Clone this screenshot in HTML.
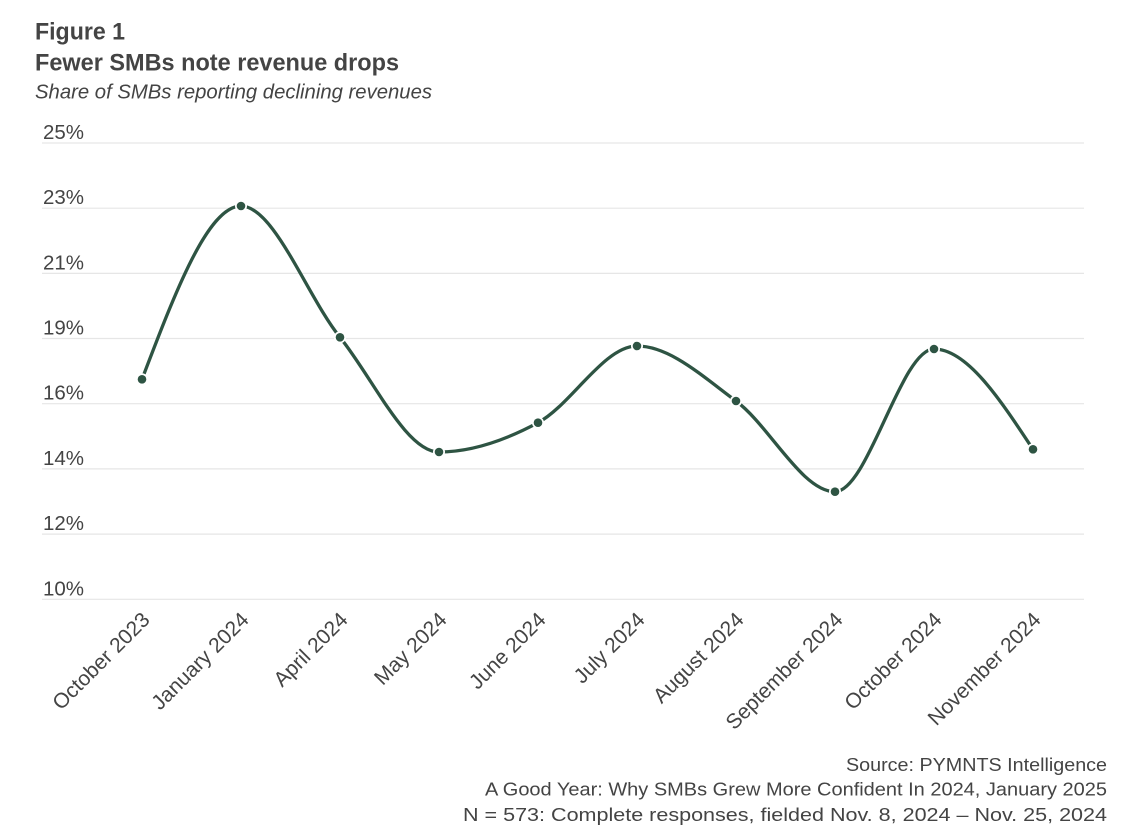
<!DOCTYPE html>
<html>
<head>
<meta charset="utf-8">
<style>
  html, body { margin:0; padding:0; background:#ffffff; }
  body { width:1134px; height:836px; overflow:hidden; }
  svg { display:block; }
  text { font-family: "Liberation Sans", "DejaVu Sans", sans-serif; fill:#444444; }
</style>
</head>
<body>
<svg width="1134" height="836" viewBox="0 0 1134 836" xmlns="http://www.w3.org/2000/svg">
  <rect x="0" y="0" width="1134" height="836" fill="#ffffff"/>

  <!-- Titles -->
  <text x="35" y="39.5" font-size="24.5" font-weight="bold" textLength="90" lengthAdjust="spacingAndGlyphs">Figure 1</text>
  <text x="35" y="70.5" font-size="24" font-weight="bold" textLength="364" lengthAdjust="spacingAndGlyphs">Fewer SMBs note revenue drops</text>
  <text x="35" y="98.5" font-size="20" font-style="italic" textLength="397" lengthAdjust="spacingAndGlyphs">Share of SMBs reporting declining revenues</text>

  <!-- Gridlines -->
  <g stroke="#e6e6e6" stroke-width="1.2">
    <line x1="42" x2="1084" y1="143" y2="143"/>
    <line x1="42" x2="1084" y1="208.2" y2="208.2"/>
    <line x1="42" x2="1084" y1="273.4" y2="273.4"/>
    <line x1="42" x2="1084" y1="338.5" y2="338.5"/>
    <line x1="42" x2="1084" y1="403.7" y2="403.7"/>
    <line x1="42" x2="1084" y1="468.9" y2="468.9"/>
    <line x1="42" x2="1084" y1="534.1" y2="534.1"/>
    <line x1="42" x2="1084" y1="599.3" y2="599.3"/>
  </g>

  <!-- Y labels -->
  <g font-size="20.5">
    <text x="43" y="139">25%</text>
    <text x="43" y="204.2">23%</text>
    <text x="43" y="269.4">21%</text>
    <text x="43" y="334.5">19%</text>
    <text x="43" y="399.7">16%</text>
    <text x="43" y="464.9">14%</text>
    <text x="43" y="530.1">12%</text>
    <text x="43" y="595.3">10%</text>
  </g>

  <!-- Line -->
  <path d="M142,379.3 C175,292.6 208,206 241,206 C274,206 307,296.3 340,337.3 C373,378.3 406,452 439,452 C472,452 505,440.4 538,422.7 C571,405 604,346 637,346 C670,346 703,376.7 736,401 C769,425.3 802,491.7 835,491.7 C868,491.7 901,349 934,349 C967,349 1000,399.2 1033,449.3"
        fill="none" stroke="#2e5443" stroke-width="3.3" stroke-linecap="round" stroke-linejoin="round"/>

  <!-- Markers -->
  <g>
    <g fill="#ffffff">
      <circle cx="142" cy="379.3" r="6"/>
      <circle cx="241" cy="206" r="6"/>
      <circle cx="340" cy="337.3" r="6"/>
      <circle cx="439" cy="452" r="6"/>
      <circle cx="538" cy="422.7" r="6"/>
      <circle cx="637" cy="346" r="6"/>
      <circle cx="736" cy="401" r="6"/>
      <circle cx="835" cy="491.7" r="6"/>
      <circle cx="934" cy="349" r="6"/>
      <circle cx="1033" cy="449.3" r="6"/>
    </g>
    <g fill="#2e5443">
      <circle cx="142" cy="379.3" r="4.3"/>
      <circle cx="241" cy="206" r="4.3"/>
      <circle cx="340" cy="337.3" r="4.3"/>
      <circle cx="439" cy="452" r="4.3"/>
      <circle cx="538" cy="422.7" r="4.3"/>
      <circle cx="637" cy="346" r="4.3"/>
      <circle cx="736" cy="401" r="4.3"/>
      <circle cx="835" cy="491.7" r="4.3"/>
      <circle cx="934" cy="349" r="4.3"/>
      <circle cx="1033" cy="449.3" r="4.3"/>
    </g>
  </g>

  <!-- X labels -->
  <g font-size="21" text-anchor="end">
    <text transform="translate(151,621) rotate(-45)">October 2023</text>
    <text transform="translate(250,621) rotate(-45)">January 2024</text>
    <text transform="translate(349,621) rotate(-45)">April 2024</text>
    <text transform="translate(448,621) rotate(-45)">May 2024</text>
    <text transform="translate(547,621) rotate(-45)">June 2024</text>
    <text transform="translate(646,621) rotate(-45)">July 2024</text>
    <text transform="translate(745,621) rotate(-45)">August 2024</text>
    <text transform="translate(844,621) rotate(-45)">September 2024</text>
    <text transform="translate(943,621) rotate(-45)">October 2024</text>
    <text transform="translate(1042,621) rotate(-45)">November 2024</text>
  </g>

  <!-- Footer -->
  <g font-size="18.5">
    <text x="846" y="771" textLength="261" lengthAdjust="spacingAndGlyphs">Source: PYMNTS Intelligence</text>
    <text x="485" y="795.5" textLength="622" lengthAdjust="spacingAndGlyphs">A Good Year: Why SMBs Grew More Confident In 2024, January 2025</text>
    <text x="463" y="821" textLength="644" lengthAdjust="spacingAndGlyphs">N = 573: Complete responses, fielded Nov. 8, 2024 – Nov. 25, 2024</text>
  </g>
</svg>
</body>
</html>
